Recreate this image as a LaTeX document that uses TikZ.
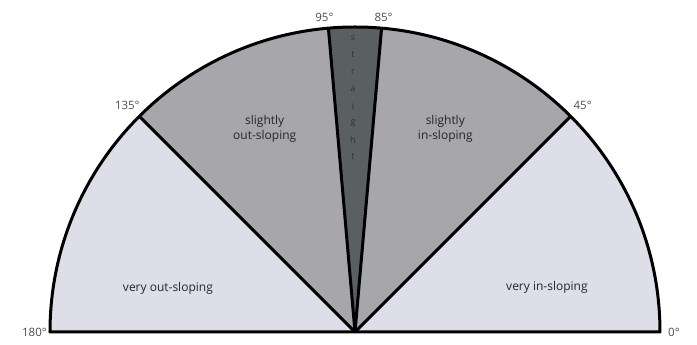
\documentclass[tikz,border=0pt]{standalone}
\usepackage{fontspec}
\setmainfont{Open Sans}
\usetikzlibrary{positioning}

\definecolor{veryfill}{RGB}{221,222,232}
\definecolor{slightfill}{RGB}{166,166,171}
\definecolor{straightfill}{RGB}{90,95,96}

\begin{document}
\begin{tikzpicture}[x=1pt,y=1pt,
  edge/.style={draw=black,line width=3pt,line join=round},
  deg/.style={font=\fontsize{11.5}{12}\selectfont,text=black!70,inner sep=0pt},
  zone/.style={font=\fontsize{12}{15}\selectfont,text=black!85,align=center},
  letter/.style={font=\fontsize{9}{9}\selectfont,text=black!80,inner sep=0pt}]
\useasboundingbox (-355,-13) rectangle (342,332);
\coordinate (O) at (0,0);
% rays
\coordinate (a0) at (0:305);
\coordinate (a45) at (45:305);
\coordinate (a85) at (85:305);
\coordinate (a95) at (95:305);
\coordinate (a135) at (135:305);
\coordinate (a180) at (180:305);
% sectors
\fill[veryfill] (O) -- (a0) arc (0:45:305) -- cycle;
\fill[slightfill] (O) -- (a45) arc (45:85:305) -- cycle;
\fill[straightfill] (O) -- (a85) arc (85:95:305) -- cycle;
\fill[slightfill] (O) -- (a95) arc (95:135:305) -- cycle;
\fill[veryfill] (O) -- (a135) arc (135:180:305) -- cycle;
% outline and rays on top
\draw[edge] (a180) -- (a0) arc (0:180:305) -- cycle;
\draw[edge] (O) -- (a45);
\draw[edge] (O) -- (a85);
\draw[edge] (O) -- (a95);
\draw[edge] (O) -- (a135);
% angle labels
\node[deg,left=3pt of a180] (t180) {180°};
\node[deg,right=8pt of a0] (t0) {0°};
\node[deg,above=7pt of a135,xshift=-12pt] (t135) {135°};
\node[deg,above=7pt of a45,xshift=12pt] (t45) {45°};
\node[deg,above=6pt of a95,xshift=-4pt] (t95) {95°};
\node[deg,above=6pt of a85,xshift=2pt] (t85) {85°};
% zone labels
\node[zone] (vout) at (167:192) {very out-sloping};
\node[zone] (vin) at (13:197) {very in-sloping};
\node[zone] (sout) at (114:222) {slightly\\out-sloping};
\node[zone] (sin) at (66:222) {slightly\\in-sloping};
\foreach \ch [count=\i] in {s,t,r,a,i,g,h,t}
  \node[letter] (st\i) at (-2,311-17*\i) {\ch};
\end{tikzpicture}
\end{document}
